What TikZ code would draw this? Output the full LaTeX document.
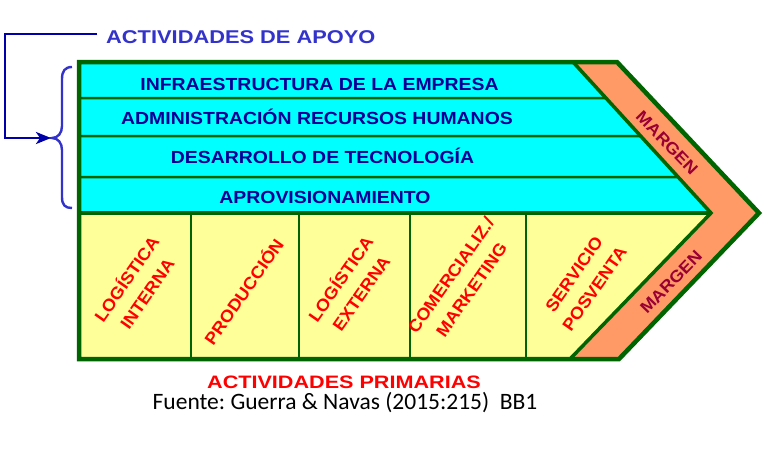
\documentclass[tikz,border=0pt]{standalone}
\usepackage{fontspec}
\setmainfont{Liberation Sans}
\newfontfamily\calfont{Carlito}
\usepackage{graphicx}
\usetikzlibrary{arrows.meta,calc}
\definecolor{vcgreen}{RGB}{0,100,0}
\definecolor{vccyan}{RGB}{0,255,255}
\definecolor{vcyellow}{RGB}{255,255,153}
\definecolor{vcorange}{RGB}{255,153,102}
\definecolor{vcnavy}{RGB}{0,0,150}
\definecolor{vcblue}{RGB}{51,51,204}
\definecolor{vcarrow}{RGB}{0,0,170}
\definecolor{vcred}{RGB}{255,0,0}
\definecolor{vcmargin}{RGB}{153,0,51}
\newcommand{\vcwide}[2]{\scalebox{#1}[1]{#2}}
\newcommand{\vctwo}[2]{\scalebox{1.07}[1]{\begin{tabular}{@{}c@{}}#1\\#2\end{tabular}}}
\frenchspacing
\begin{document}
\begin{tikzpicture}[x=1pt,y=-1pt,
  supporttxt/.style={font=\bfseries\fontsize{17.5}{20}\selectfont, text=vcnavy, inner sep=0pt, anchor=base},
  primtxt/.style={font=\bfseries\fontsize{17}{25}\selectfont, text=vcred, inner sep=0pt, align=center, rotate=55},
  margintxt/.style={font=\bfseries\fontsize{16.5}{19}\selectfont, text=vcmargin, inner sep=0pt},
  frameline/.style={draw=vcgreen, line width=4.5pt, line join=miter},
  chevline/.style={draw=vcgreen, line width=3.5pt, line join=miter},
  sepline/.style={draw=vcgreen, line width=2.5pt},
  baseline/.style={draw=vcgreen, line width=3.5pt},
  apoyoarrow/.style={draw=vcarrow, line width=2.5pt, -{Stealth[length=15pt,width=12pt,inset=4pt]}},
  bracestyle/.style={draw=vcblue, line width=2.4pt},
]
\useasboundingbox[fill=white] (0,0) rectangle (768,448);
% geometry
\coordinate (oTL) at (79,62);
\coordinate (oTR) at (617,62);
\coordinate (oTip) at (759,213);
\coordinate (oBR) at (619,359);
\coordinate (oBL) at (79,359);
\coordinate (iTop) at (573,62);
\coordinate (iTip) at (711,213);
\coordinate (iBot) at (570,359);
\coordinate (iLeft) at (79,213);
% fills
\fill[vccyan] (oTL) -- (iTop) -- (iTip) -- (iLeft) -- cycle;
\fill[vcyellow] (iLeft) -- (iTip) -- (iBot) -- (oBL) -- cycle;
\fill[vcorange] (iTop) -- (oTR) -- (oTip) -- (oBR) -- (iBot) -- (iTip) -- cycle;
% support separators
\foreach \yy in {98,136,177}
  \draw[sepline] (79,\yy) -- ($(iTop)!{(\yy-62)/151}!(iTip)$);
\draw[baseline] (iLeft) -- (iTip);
% primary separators
\foreach \xx in {191,299,410,526}
  \draw[sepline] (\xx,213) -- (\xx,359);
% chevron and frame
\draw[chevline] (iTop) -- (iTip) -- (iBot);
\draw[frameline] (oTL) -- (oTR) -- (oTip) -- (oBR) -- (oBL) -- cycle;
% support texts
\node[supporttxt] (infra) at (319.5,90) {\vcwide{1.11}{INFRAESTRUCTURA DE LA EMPRESA}};
\node[supporttxt] (rrhh) at (317,124) {\vcwide{1.11}{ADMINISTRACIÓN RECURSOS HUMANOS}};
\node[supporttxt] (tec) at (322.5,163) {\vcwide{1.11}{DESARROLLO DE TECNOLOGÍA}};
\node[supporttxt] (aprov) at (325,203) {\vcwide{1.11}{APROVISIONAMIENTO}};
% primary texts
\node[primtxt] (logint) at (138,287) {\vctwo{LOGÍSTICA}{INTERNA}};
\node[primtxt] (prod) at (243,291) {\vcwide{1.07}{PRODUCCIÓN}};
\node[primtxt] (logext) at (352,287) {\vctwo{LOGÍSTICA}{EXTERNA}};
\node[primtxt] (comer) at (462,283) {\vctwo{COMERCIALIZ./}{MARKETING}};
\node[primtxt] (serv) at (585,282) {\vctwo{SERVICIO}{POSVENTA}};
% margins
\node[margintxt, rotate=-46] (margtop) at (667,143) {\vcwide{1.1}{MARGEN}};
\node[margintxt, rotate=46] (margbot) at (671,282) {\vcwide{1.1}{MARGEN}};
% titles
\node[font=\bfseries\fontsize{18.5}{22}\selectfont, text=vcblue, inner sep=0pt, anchor=base west] (title) at (106,43) {\vcwide{1.18}{ACTIVIDADES DE APOYO}};
\node[font=\bfseries\fontsize{18}{22}\selectfont, text=vcred, inner sep=0pt, anchor=base] (prim) at (344,388) {\vcwide{1.2}{ACTIVIDADES PRIMARIAS}};
\node[font=\calfont\fontsize{23.5}{27}\selectfont, text=black, inner sep=0pt, anchor=base] (fuente) at (345,409) {Fuente: Guerra \& Navas (2015:215)\ \ BB1};
% brace and arrow
\coordinate (braceTip) at (52,138);
\coordinate (bendL) at (5,138);
\draw[bracestyle] (72,67) .. controls (65,67) and (62,71) .. (62,79) -- (62,126) .. controls (62,133) and (58,138) .. (braceTip) .. controls (58,138) and (62,143) .. (62,150) -- (62,197) .. controls (62,205) and (65,208) .. (72,208);
\draw[apoyoarrow, shorten >=1pt] ([xshift=-9pt,yshift=2.5pt]title.west) -| (bendL) -- (braceTip);
\end{tikzpicture}
\end{document}
